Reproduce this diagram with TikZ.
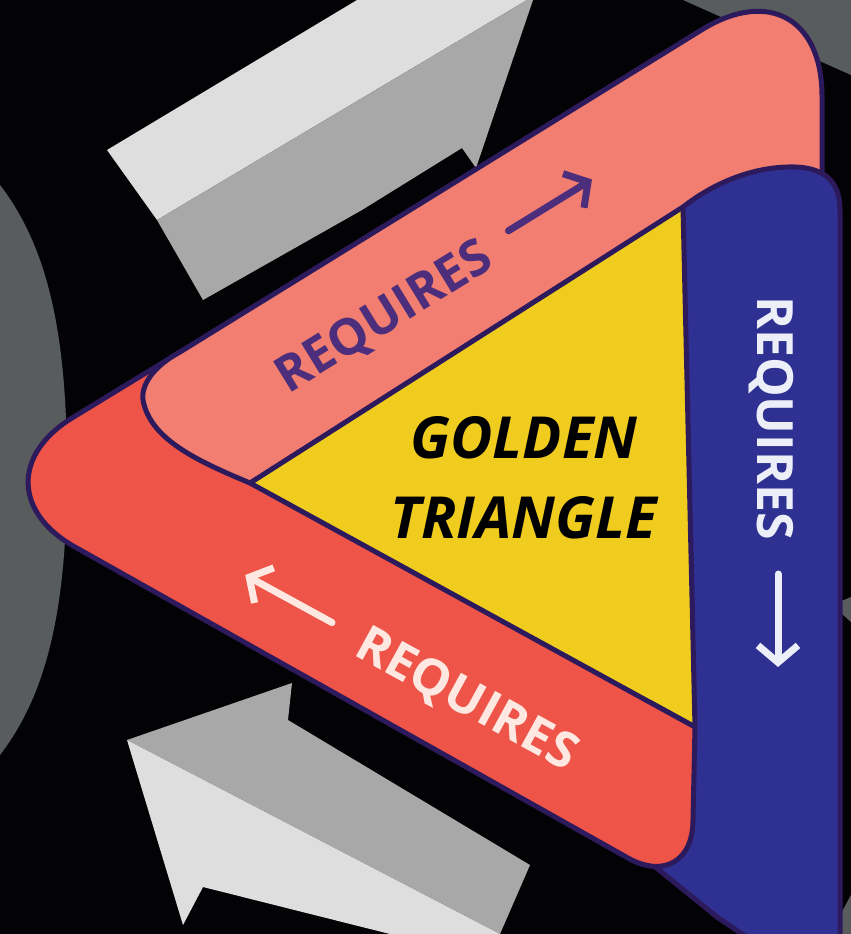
\documentclass[tikz,border=0pt]{standalone}
\usepackage{fontspec}
\usetikzlibrary{arrows.meta}
\newfontfamily\reqfont{Open Sans}
\newfontfamily\titlefont{Open Sans}
\definecolor{bgblack}{RGB}{3,3,5}
\definecolor{ringgray}{RGB}{88,92,92}
\definecolor{arrowlight}{RGB}{222,222,222}
\definecolor{arrowmid}{RGB}{168,168,168}
\definecolor{bandsalmon}{RGB}{241,126,112}
\definecolor{bandred}{RGB}{238,85,72}
\definecolor{bandblue}{RGB}{46,49,146}
\definecolor{goldyellow}{RGB}{240,204,30}
\definecolor{bandline}{RGB}{44,26,92}
\definecolor{reqpurple}{RGB}{76,46,124}
\definecolor{reqpale}{RGB}{255,232,226}
\definecolor{reqwhite}{RGB}{236,238,248}
\newcommand\redbandpath{(695,727) -- (693,820) .. controls (693,861) and (664,878) .. (628,858) -- (75,547) .. controls (14,513) and (12,455) .. (72,418) -- (190,346) -- (230,440) -- (250,483) -- cycle}

\begin{document}
\begin{tikzpicture}[x=1pt,y=-1pt,
  band/.style={draw=bandline,line width=5pt,line join=round},
  reqtext/.style={font=\reqfont\bfseries\fontsize{50}{50}\selectfont,inner sep=0pt,text height=36pt,text depth=0pt},
  reqarrow/.style={line width=7pt,line cap=round,-{Straight Barb[length=17pt,width=40pt]}}]
  % background and grey ring pieces
  \fill[bgblack] (0,0) rectangle (851,934);
  \useasboundingbox (0,0) rectangle (851,934);
  \fill[ringgray] (0,185) .. controls (50,250) and (67,340) .. (67,470) .. controls (67,600) and (50,690) .. (0,755) -- cycle;
  \fill[ringgray] (683,0) -- (851,0) -- (851,75) -- cycle;
  \fill[ringgray] (832,605) -- (851,597) -- (851,622) -- cycle;
  \fill[ringgray] (851,895) -- (851,934) -- (830,934) -- cycle;
  % grey block arrows
  \fill[arrowlight] (107,150) -- (357,0) -- (527,0) -- (157,220) -- cycle;
  \fill[arrowmid] (157,220) -- (527,0) -- (533,0) -- (476,168) -- (462,148) -- (362,210) -- (203,300) -- cycle;
  \fill[arrowmid] (127,740) -- (292,683) -- (288,720) -- (530,865) -- (500,934) -- cycle;
  \fill[arrowlight] (127,740) -- (500,934) -- (390,934) -- (203,887) -- (183,925) -- cycle;
  % golden core
  \fill[goldyellow] (250,483) -- (690,200) -- (700,735) -- cycle;
  % the three bands
  \path[band,fill=bandred] \redbandpath;
  \path[band,fill=bandsalmon] (683,207) -- (250,483) .. controls (200,462) and (150,440) .. (143,400) .. controls (141,386) and (152,367) .. (180,352) -- (703,29) .. controls (769,-11) and (822,19) .. (822,96) -- (822,240) -- (720,240) -- cycle;
  \path[band,fill=bandblue] (683,207) .. controls (715,182) and (755,166) .. (795,167) .. controls (825,168) and (840,182) .. (840,210) -- (840,1000) -- (717,917) -- (643,857) -- (625,845) -- (690,745) -- (695,727) -- cycle;
  \begin{scope}
    \clip (600,700) rectangle (851,934);
    \path[band,fill=bandred] \redbandpath;
  \end{scope}
  % labels
  \node[font=\titlefont\bfseries\itshape\fontsize{58}{80}\selectfont,align=center,inner sep=0pt] (title) at (524,478) {GOLDEN\\TRIANGLE};
  \begin{scope}[shift={(383,315)},rotate=31.6,transform shape]
    \node[reqtext,text=reqpurple] (reqTop) at (0,0) {REQUIRES};
    \draw[reqarrow,reqpurple] (151,-6) -- (249,-6);
  \end{scope}
  \begin{scope}[shift={(468,697)},rotate=-28.7,transform shape]
    \node[reqtext,text=reqpale] (reqLeft) at (0,0) {REQUIRES};
    \draw[reqarrow,reqpale] (-155,0) -- (-254,0);
  \end{scope}
  \begin{scope}[shift={(775,418)},rotate=-90,transform shape]
    \node[reqtext,text=reqwhite] (reqRight) at (0,0) {REQUIRES};
    \draw[reqarrow,reqwhite] (156,-3) -- (249,-3);
  \end{scope}
\end{tikzpicture}
\end{document}
